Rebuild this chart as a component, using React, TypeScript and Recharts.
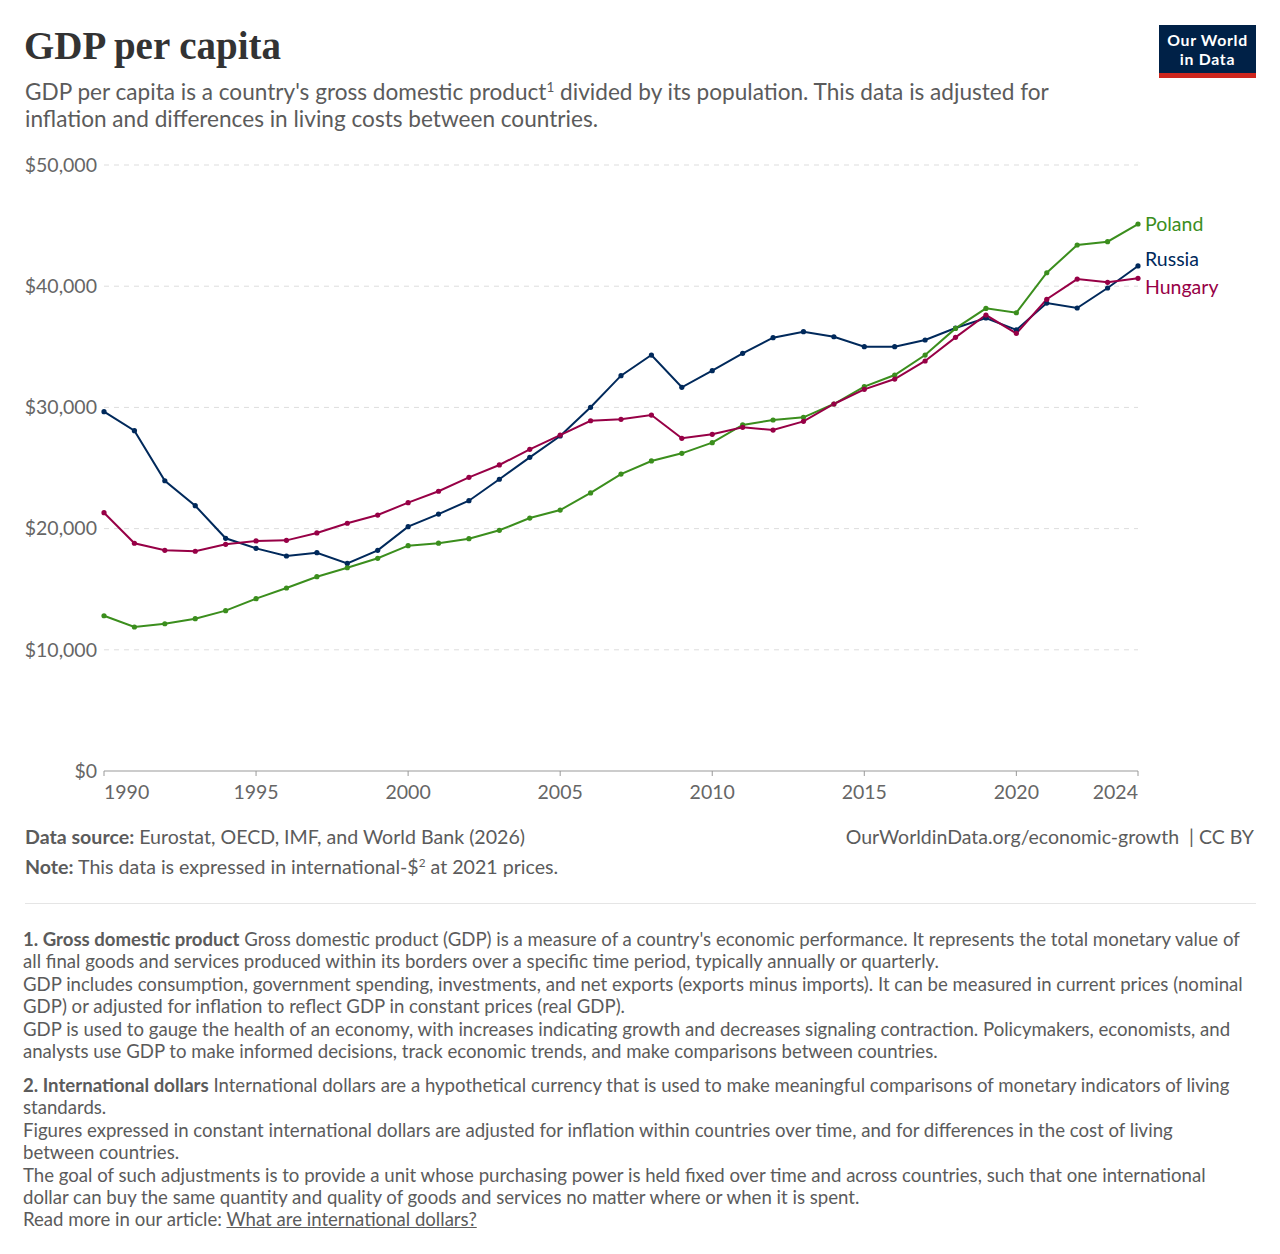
import { LineChart, Line, XAxis, YAxis, CartesianGrid } from "recharts";

// Values (international-$ at 2021 prices)
const years = [
  1990, 1991, 1992, 1993, 1994, 1995, 1996, 1997, 1998, 1999,
  2000, 2001, 2002, 2003, 2004, 2005, 2006, 2007, 2008, 2009,
  2010, 2011, 2012, 2013, 2014, 2015, 2016, 2017, 2018, 2019,
  2020, 2021, 2022, 2023, 2024,
];

const poland = [
  12810, 11880, 12150, 12570, 13230, 14220, 15100, 16030, 16770, 17550,
  18590, 18800, 19170, 19860, 20870, 21530, 22940, 24500, 25580, 26210,
  27090, 28550, 28960, 29180, 30280, 31710, 32670, 34320, 36520, 38170,
  37810, 41110, 43400, 43670, 45130,
];

const russia = [
  29650, 28080, 23950, 21890, 19200, 18370, 17740, 18010, 17130, 18210,
  20160, 21200, 22300, 24070, 25880, 27640, 30010, 32620, 34320, 31660,
  33030, 34460, 35750, 36250, 35830, 35010, 35010, 35560, 36550, 37380,
  36390, 38610, 38200, 39850, 41670,
];

const hungary = [
  21310, 18790, 18210, 18130, 18700, 18980, 19030, 19640, 20440, 21120,
  22140, 23080, 24230, 25250, 26540, 27720, 28900, 29020, 29370, 27450,
  27780, 28360, 28130, 28850, 30280, 31490, 32340, 33830, 35780, 37620,
  36110, 38920, 40590, 40320, 40650,
];

const xTicks = [1990, 1995, 2000, 2005, 2010, 2015, 2020, 2024];
const yTicks = [0, 10000, 20000, 30000, 40000, 50000];

const data = years.map((year, i) => ({
  year,
  poland: poland[i],
  russia: russia[i],
  hungary: hungary[i],
}));

const FONT = "Lato, 'Noto Sans', sans-serif";
const TEXT = "#5b5b5b";

// draw order: Russia underneath, Hungary on top
const series = [
  { key: "russia", name: "Russia", color: "#00295B", labelDy: -7 },
  { key: "poland", name: "Poland", color: "#3B8E1D", labelDy: 0 },
  { key: "hungary", name: "Hungary", color: "#970046", labelDy: 9 },
];

function formatDollars(v: number) {
  return "$" + v.toLocaleString("en-US");
}

function YTick(props: any) {
  const { x, y, payload } = props;
  return (
    <text
      x={x}
      y={y}
      dy="0.35em"
      textAnchor="end"
      fill="#666"
      fontSize={19.5}
      fontFamily={FONT}
    >
      {formatDollars(payload.value)}
    </text>
  );
}

function XTick(props: any) {
  const { x, y, payload } = props;
  const v = payload.value;
  const anchor =
    v === xTicks[0] ? "start" : v === xTicks[xTicks.length - 1] ? "end" : "middle";
  return (
    <text
      x={x}
      y={y}
      dy="0.72em"
      textAnchor={anchor}
      fill="#666"
      fontSize={19.5}
      fontFamily={FONT}
    >
      {v}
    </text>
  );
}

function endLabel(name: string, color: string, dy: number) {
  return (props: any) => {
    if (props.index !== years.length - 1) return null;
    return (
      <text
        key={name}
        x={props.x + 7}
        y={props.y + dy}
        dy="0.35em"
        fill={color}
        fontSize={19.5}
        fontFamily={FONT}
      >
        {name}
      </text>
    );
  };
}

function Logo() {
  const line = {
    position: "absolute" as const,
    left: 0,
    width: 97,
    textAlign: "center" as const,
    fontSize: 15.8,
    letterSpacing: 0.7,
    lineHeight: "19px",
  };
  return (
    <div
      style={{
        position: "absolute",
        left: 1159,
        top: 25,
        width: 97,
        height: 53,
        background: "#002147",
        borderBottom: "5px solid #ce261e",
        boxSizing: "border-box",
        color: "#fff",
        fontFamily: FONT,
        fontWeight: 700,
      }}
    >
      <div style={{ ...line, top: 5 }}>Our World</div>
      <div style={{ ...line, top: 24 }}>in Data</div>
    </div>
  );
}

const footnote1 = [
  <>
    <b>1. Gross domestic product</b> Gross domestic product (GDP) is a measure of a country's economic performance. It represents the total monetary value of
  </>,
  "all final goods and services produced within its borders over a specific time period, typically annually or quarterly.",
  "GDP includes consumption, government spending, investments, and net exports (exports minus imports). It can be measured in current prices (nominal",
  "GDP) or adjusted for inflation to reflect GDP in constant prices (real GDP).",
  "GDP is used to gauge the health of an economy, with increases indicating growth and decreases signaling contraction. Policymakers, economists, and",
  "analysts use GDP to make informed decisions, track economic trends, and make comparisons between countries.",
];

const footnote2 = [
  <>
    <b>2. International dollars</b> International dollars are a hypothetical currency that is used to make meaningful comparisons of monetary indicators of living
  </>,
  "standards.",
  "Figures expressed in constant international dollars are adjusted for inflation within countries over time, and for differences in the cost of living",
  "between countries.",
  "The goal of such adjustments is to provide a unit whose purchasing power is held fixed over time and across countries, such that one international",
  "dollar can buy the same quantity and quality of goods and services no matter where or when it is spent.",
  <>
    Read more in our article: <span style={{ textDecoration: "underline" }}>What are international dollars?</span>
  </>,
];

function Lines({ lines, top }: { lines: any[]; top: number }) {
  return (
    <div
      style={{
        position: "absolute",
        left: 23,
        top,
        fontFamily: FONT,
        fontSize: 18.6,
        lineHeight: "22.4px",
        color: TEXT,
        whiteSpace: "nowrap",
      }}
    >
      {lines.map((l, i) => (
        <div key={i}>{l}</div>
      ))}
    </div>
  );
}

const sup = { fontSize: "0.6em", verticalAlign: "0.6em", lineHeight: 0 };

export default function App() {
  return (
    <div
      style={{
        position: "relative",
        width: 1280,
        height: 1254,
        background: "#fff",
        overflow: "hidden",
      }}
    >
      <style>{`body{margin:0}`}</style>

      <div
        style={{
          position: "absolute",
          left: 24,
          top: 23,
          fontFamily: "'Liberation Serif', 'DejaVu Serif', serif",
          fontWeight: 700,
          fontSize: 39,
          lineHeight: "46px",
          color: "#333",
        }}
      >
        GDP per capita
      </div>

      <div
        style={{
          position: "absolute",
          left: 25,
          top: 78,
          fontFamily: FONT,
          fontSize: 22.6,
          lineHeight: "27px",
          color: TEXT,
          whiteSpace: "nowrap",
        }}
      >
        GDP per capita is a country's gross domestic product<sup style={sup}>1</sup> divided by its population. This data is adjusted for
        <br />
        inflation and differences in living costs between countries.
      </div>

      <Logo />

      <div style={{ position: "absolute", left: 0, top: 0 }}>
        <LineChart
          width={1280}
          height={830}
          data={data}
          margin={{ top: 165, right: 142, bottom: 29, left: 25 }}
        >
          <CartesianGrid
            vertical={false}
            stroke="#dddddd"
            strokeDasharray="5 5"
            horizontalValues={yTicks.filter((t) => t > 0)}
          />
          <XAxis
            dataKey="year"
            type="number"
            domain={[1990, 2024]}
            ticks={xTicks}
            tick={<XTick />}
            axisLine={{ stroke: "#999" }}
            tickLine={{ stroke: "#999" }}
            tickSize={5}
            tickMargin={9}
            height={30}
            interval={0}
          />
          <YAxis
            type="number"
            domain={[0, 50000]}
            ticks={yTicks}
            tick={<YTick />}
            axisLine={false}
            tickLine={false}
            tickSize={0}
            tickMargin={7}
            width={79}
            interval={0}
          />
          {series.map((s) => (
            <Line
              key={s.key}
              type="linear"
              dataKey={s.key}
              stroke={s.color}
              strokeWidth={2}
              dot={{ r: 2.6, fill: s.color, stroke: s.color, strokeWidth: 0 }}
              isAnimationActive={false}
              label={endLabel(s.name, s.color, s.labelDy)}
            />
          ))}
        </LineChart>
      </div>

      <div
        style={{
          position: "absolute",
          left: 25,
          top: 825,
          fontFamily: FONT,
          fontSize: 19.6,
          lineHeight: "24px",
          color: TEXT,
          whiteSpace: "nowrap",
        }}
      >
        <div>
          <b>Data source:</b> Eurostat, OECD, IMF, and World Bank (2026)
        </div>
        <div style={{ marginTop: 6 }}>
          <b>Note:</b> This data is expressed in international-$<sup style={sup}>2</sup> at 2021 prices.
        </div>
      </div>

      <div
        style={{
          position: "absolute",
          right: 26,
          top: 825,
          fontFamily: FONT,
          fontSize: 19.5,
          lineHeight: "24px",
          color: TEXT,
          whiteSpace: "nowrap",
        }}
      >
        OurWorldinData.org/economic-growth&nbsp; | CC BY
      </div>

      <div
        style={{
          position: "absolute",
          left: 25,
          top: 903,
          width: 1231,
          height: 1,
          background: "#e5e5e5",
        }}
      />

      <Lines lines={footnote1} top={928} />
      <Lines lines={footnote2} top={1074} />
    </div>
  );
}
